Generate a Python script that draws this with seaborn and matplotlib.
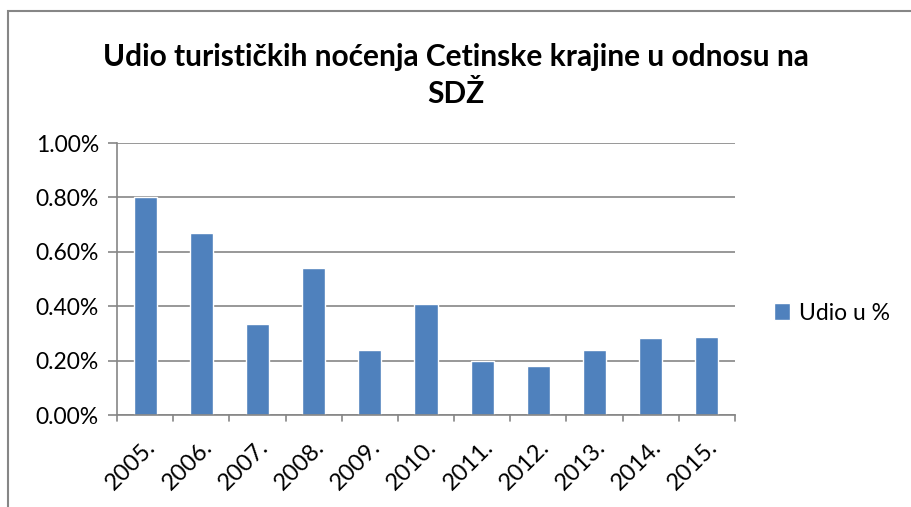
import matplotlib
matplotlib.use("Agg")
import matplotlib.pyplot as plt
from matplotlib.patches import Rectangle
from matplotlib.ticker import PercentFormatter
import seaborn as sns
import pandas as pd

# data (values in %)
years = ["2005.", "2006.", "2007.", "2008.", "2009.", "2010.",
         "2011.", "2012.", "2013.", "2014.", "2015."]
udio = [0.80, 0.67, 0.335, 0.54, 0.24, 0.408, 0.198, 0.18, 0.24, 0.283, 0.288]
series_name = "Udio u %"
title = "Udio turističkih noćenja Cetinske krajine u odnosu na\nSDŽ"

df = pd.DataFrame({"year": years, "value": udio, "series": series_name})

sns.set_style("white")
plt.rcParams["font.family"] = ["Lato", "DejaVu Sans"]
plt.rcParams["text.color"] = "black"
plt.rcParams["xtick.color"] = "black"
plt.rcParams["ytick.color"] = "black"

fig = plt.figure(figsize=(9.12, 5.07), dpi=100)
ax = fig.add_axes([117 / 912, 92 / 507, 618 / 912, 272 / 507])

sns.barplot(data=df, x="year", y="value", hue="series", palette=["#4F81BD"],
            saturation=1, width=0.41, ax=ax, legend=True)

ax.set_ylim(0, 1.0)
ax.set_yticks([0, 0.2, 0.4, 0.6, 0.8, 1.0])
ax.yaxis.set_major_formatter(PercentFormatter(xmax=100, decimals=2))
ax.set_xlim(-0.5, len(years) - 0.5)
ax.grid(axis="y", color="#868686", linewidth=1.2)
ax.set_axisbelow(True)
ax.set_xlabel("")
ax.set_ylabel("")

for side in ["top", "right"]:
    ax.spines[side].set_visible(False)
for side in ["left", "bottom"]:
    ax.spines[side].set_color("#868686")
    ax.spines[side].set_linewidth(1.2)

ax.set_xticks(range(len(years)))
ax.set_xticklabels(years, rotation=45, ha="right", rotation_mode="anchor", fontsize=17)
ax.tick_params(axis="x", length=0, pad=15)
ax.tick_params(axis="y", labelsize=16.5, length=6.5, color="#868686", width=1.2,
               left=True, pad=6.5)
# category boundary ticks like Excel
for i in range(len(years) + 1):
    ax.plot([i - 0.5, i - 0.5], [0, -0.022], color="#868686", lw=1.2, clip_on=False)

leg = ax.legend(loc="center left", bbox_to_anchor=(1.03, 0.375), frameon=False,
                fontsize=16.5, handlelength=0.7, handleheight=0.7, handletextpad=0.4)

fig.suptitle(title, fontsize=21.5, fontweight="bold", y=0.915, linespacing=1.4)

# outer chart frame, partly cut off in the reference
fig.patches.append(Rectangle((8 / 912, -0.1), 1.2, (507 - 11) / 507 + 0.1,
                             transform=fig.transFigure, fill=False,
                             edgecolor="#868686", linewidth=1.5))

fig.savefig("out.png", dpi=100)
